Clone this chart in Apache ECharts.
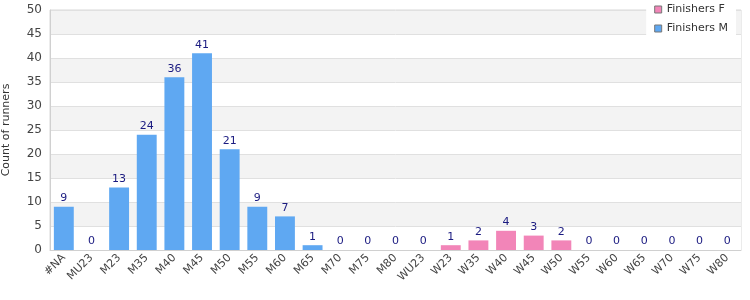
<!DOCTYPE html>
<html><head><meta charset="utf-8">
<script src="https://cdn.jsdelivr.net/npm/echarts@6/dist/echarts.min.js"></script>
<style>html,body{margin:0;padding:0;background:#fff}#c{width:750px;height:300px}</style>
</head><body><div id="c"></div>
<script>
var categories = ['#NA','MU23','M23','M35','M40','M45','M50','M55','M60','M65','M70','M75','M80','WU23','W23','W35','W40','W45','W50','W55','W60','W65','W70','W75','W80'];
var finishersM = [9,0,13,24,36,41,21,9,7,1,0,0,0,null,null,null,null,null,null,null,null,null,null,null,null];
var finishersF = [null,null,null,null,null,null,null,null,null,null,null,null,null,0,1,2,4,3,2,0,0,0,0,0,0];
var yTicks = [0,5,10,15,20,25,30,35,40,45,50];

var chart = echarts.init(document.getElementById('c'));
var lbl = {show:true, position:'top', color:'#1a1a80', fontSize:11, fontFamily:'DejaVu Sans', distance:3};
chart.setOption({
  animation:false,
  textStyle:{fontFamily:'DejaVu Sans'},
  grid:{left:50, right:9, top:10, bottom:50, show:true, borderColor:'#d8d8d8', borderWidth:1, backgroundColor:'transparent', containLabel:false, outerBoundsMode:'none'},
  legend:{
    orient:'vertical', right:14, top:0, itemWidth:7, itemHeight:7, itemGap:8, icon:'rect',
    backgroundColor:'#fff', padding:[4,8,5,8],
    textStyle:{fontSize:11, color:'#333', fontFamily:'DejaVu Sans'},
    data:[{name:'Finishers F', itemStyle:{borderColor:'#777', borderWidth:1}},{name:'Finishers M', itemStyle:{borderColor:'#777', borderWidth:1}}]
  },
  xAxis:{
    type:'category', data:categories,
    axisLine:{lineStyle:{color:'#d0d0d0'}}, axisTick:{show:false},
    axisLabel:{rotate:45, interval:0, fontSize:11, color:'#444', margin:6}
  },
  yAxis:{
    type:'value', min:yTicks[0], max:yTicks[yTicks.length-1], interval:5,
    name:'Count of runners', nameLocation:'middle', nameGap:38,
    nameTextStyle:{fontSize:11, color:'#333'},
    axisLine:{show:true, lineStyle:{color:'#d0d0d0'}}, axisTick:{show:false},
    axisLabel:{fontSize:12, color:'#444', margin:8},
    splitLine:{lineStyle:{color:'#e0e0e0'}},
    splitArea:{show:true, areaStyle:{color:['#ffffff','#f3f3f3']}}
  },
  series:[
    {name:'Finishers F', type:'bar', stack:'a', data:finishersF, barWidth:'72%', itemStyle:{color:'#f285b8'}, label:lbl},
    {name:'Finishers M', type:'bar', stack:'a', data:finishersM, barWidth:'72%', itemStyle:{color:'#5fa8f2'}, label:lbl}
  ]
});
</script></body></html>
